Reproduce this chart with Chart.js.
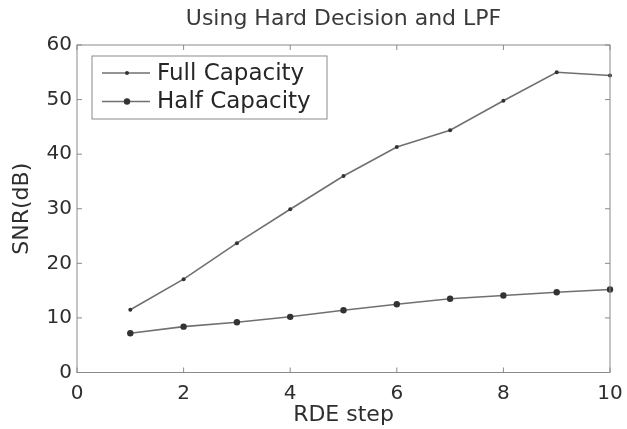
<!DOCTYPE html>
<html>
<head>
<meta charset="utf-8">
<script src="https://cdn.jsdelivr.net/npm/chart.js@4.4.1/dist/chart.umd.min.js"></script>
<style>
  html, body { margin: 0; padding: 0; background: #ffffff; }
  #wrap { width: 627px; height: 429px; }
</style>
</head>
<body>
<div id="wrap"><canvas id="chart"></canvas></div>
<script>
// values
const steps = [1, 2, 3, 4, 5, 6, 7, 8, 9, 10];
const fullCapacity = [11.5, 17.1, 23.7, 29.9, 36.0, 41.3, 44.4, 49.8, 55.0, 54.4];
const halfCapacity = [7.2, 8.4, 9.2, 10.2, 11.4, 12.5, 13.5, 14.1, 14.7, 15.2];
const seriesNames = ['Full Capacity', 'Half Capacity'];
const xTicks = [0, 2, 4, 6, 8, 10];
const yTicks = [0, 10, 20, 30, 40, 50, 60];

const FONT = '"DejaVu Sans", "Liberation Sans", sans-serif';
const TEXT = '#2e2e2e';
const AXIS = '#8a8a8a';
const LINE = '#707070';
const MARK = '#333333';

function points(ys) {
    return steps.map((x, i) => ({ x, y: ys[i] }));
}

// MATLAB-ish axes: full box with short inward ticks on all four sides
const matlabBox = {
    id: 'matlabBox',
    afterDatasetsDraw(chart) {
        const { ctx, chartArea: a, scales } = chart;
        ctx.save();
        ctx.strokeStyle = AXIS;
        ctx.lineWidth = 1;
        ctx.strokeRect(a.left, a.top, a.right - a.left, a.bottom - a.top);
        ctx.beginPath();
        xTicks.forEach(v => {
            const px = scales.x.getPixelForValue(v);
            ctx.moveTo(px, a.bottom); ctx.lineTo(px, a.bottom - 5);
            ctx.moveTo(px, a.top); ctx.lineTo(px, a.top + 5);
        });
        yTicks.forEach(v => {
            const py = scales.y.getPixelForValue(v);
            ctx.moveTo(a.left, py); ctx.lineTo(a.left + 5, py);
            ctx.moveTo(a.right, py); ctx.lineTo(a.right - 5, py);
        });
        ctx.stroke();
        ctx.restore();
    },
};

// boxed legend in the upper-left corner, line sample with marker in the middle
const boxLegend = {
    id: 'boxLegend',
    afterDraw(chart) {
        const { ctx, chartArea: a } = chart;
        const left = a.left + 15, top = a.top + 11, w = 235, h = 63;
        ctx.save();
        ctx.fillStyle = '#ffffff';
        ctx.fillRect(left, top, w, h);
        ctx.strokeStyle = AXIS;
        ctx.lineWidth = 1;
        ctx.strokeRect(left, top, w, h);
        chart.data.datasets.forEach((ds, i) => {
            const y = top + 17 + i * 28.5;
            ctx.strokeStyle = ds.borderColor;
            ctx.lineWidth = ds.borderWidth;
            ctx.beginPath();
            ctx.moveTo(left + 10, y);
            ctx.lineTo(left + 58, y);
            ctx.stroke();
            ctx.fillStyle = ds.pointBackgroundColor;
            ctx.beginPath();
            ctx.arc(left + 35, y, ds.pointRadius, 0, Math.PI * 2);
            ctx.fill();
            ctx.fillStyle = '#262626';
            ctx.font = '23px ' + FONT;
            ctx.textAlign = 'left';
            ctx.textBaseline = 'middle';
            ctx.fillText(ds.label, left + 65, y + 1);
        });
        ctx.restore();
    },
};

new Chart(document.getElementById('chart'), {
    type: 'line',
    data: {
        datasets: [
            {
                label: seriesNames[0],
                data: points(fullCapacity),
                borderColor: LINE,
                borderWidth: 1.6,
                pointRadius: 2,
                pointBackgroundColor: MARK,
                pointBorderWidth: 0,
                tension: 0,
                clip: false,
            },
            {
                label: seriesNames[1],
                data: points(halfCapacity),
                borderColor: LINE,
                borderWidth: 1.6,
                pointRadius: 3.2,
                pointBackgroundColor: MARK,
                pointBorderWidth: 0,
                tension: 0,
                clip: false,
            },
        ],
    },
    options: {
        responsive: true,
        maintainAspectRatio: false,
        animation: false,
        layout: { padding: { left: 0, right: 17, top: 0, bottom: 0 } },
        plugins: {
            legend: { display: false },
            tooltip: { enabled: false },
            title: {
                display: true,
                text: 'Using Hard Decision and LPF',
                fullSize: false,
                color: '#3a3a3a',
                font: { family: FONT, size: 22, weight: 'normal' },
                padding: { top: 6, bottom: 12.6 },
            },
        },
        scales: {
            x: {
                type: 'linear',
                min: 0,
                max: 10,
                afterBuildTicks(scale) { scale.ticks = xTicks.map(v => ({ value: v })); },
                afterFit(scale) {
                    scale.height = 56.5;
                    scale.paddingLeft = 0;
                    scale.paddingRight = 0;
                },
                grid: { display: false, drawTicks: false },
                border: { display: false },
                ticks: { color: TEXT, padding: 9, font: { family: FONT, size: 20 } },
                title: {
                    display: true,
                    text: 'RDE step',
                    color: TEXT,
                    font: { family: FONT, size: 22 },
                    padding: { top: 0, bottom: 1 },
                },
            },
            y: {
                min: 0,
                max: 60,
                afterBuildTicks(scale) { scale.ticks = yTicks.map(v => ({ value: v })); },
                afterFit(scale) { scale.width = 77; },
                grid: { display: false, drawTicks: false },
                border: { display: false },
                ticks: { color: TEXT, padding: 5, font: { family: FONT, size: 20 } },
                title: {
                    display: true,
                    text: 'SNR(dB)',
                    color: TEXT,
                    font: { family: FONT, size: 22 },
                    padding: { top: 9, bottom: 0 },
                },
            },
        },
    },
    plugins: [matlabBox, boxLegend],
});
</script>
</body>
</html>
